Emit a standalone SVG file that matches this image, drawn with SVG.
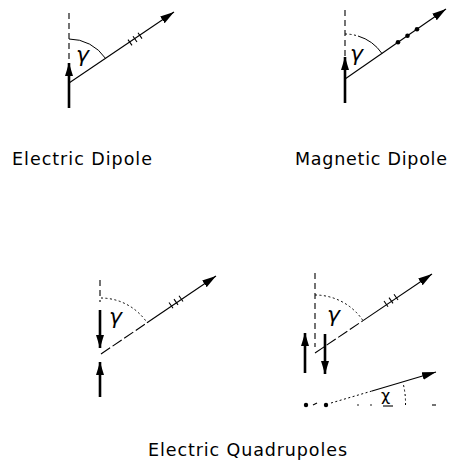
<svg xmlns="http://www.w3.org/2000/svg" width="450" height="460" viewBox="0 0 450 460">
<style>
.thin{stroke:#000;stroke-width:1.1;fill:none}
.thick{stroke:#000;stroke-width:2.6;fill:none}
.dash{stroke:#000;stroke-width:1.1;fill:none;stroke-dasharray:6 4}
.arc{stroke:#000;stroke-width:1;fill:none}
.dot{stroke:#000;stroke-width:1;fill:none;stroke-dasharray:2 2.5}
.brk{stroke:#000;stroke-width:1.1;fill:none;stroke-dasharray:11 3}
.lbl{font-family:"DejaVu Sans","Liberation Sans",sans-serif;font-size:17.5px;fill:#000}
.gr{font-family:"DejaVu Sans","Liberation Sans",sans-serif;font-size:22px;font-style:italic;fill:#000}
</style>
<defs>
<marker id="ah" markerUnits="userSpaceOnUse" markerWidth="15" markerHeight="9" refX="14" refY="4" orient="auto"><path d="M0,0 L14,4 L0,8 z" fill="#000"/></marker>
<marker id="ahk" markerUnits="userSpaceOnUse" markerWidth="14" markerHeight="9" refX="13" refY="4" orient="auto"><path d="M0,0 L13,4 L0,8 z" fill="#000"/></marker>
</defs>

<g id="electric-dipole">
<line class="dash" x1="69" y1="13" x2="69" y2="70"/>
<line class="thick" x1="69" y1="108" x2="69" y2="63" marker-end="url(#ahk)"/>
<line class="thin" x1="69" y1="83" x2="174" y2="12" marker-end="url(#ah)"/>
<path class="arc" d="M69,39 A44,44 0 0 1 105.5,58.4"/>
<path class="thin" d="M128,39.6 l4,5.8 M133,36.2 l4,5.8 M138,32.8 l4,5.8"/>
<text class="gr" x="76" y="62">γ</text>
<text class="lbl" x="12" y="165" textLength="140" lengthAdjust="spacing">Electric Dipole</text>
</g>

<g id="magnetic-dipole">
<line class="dash" x1="345" y1="10" x2="345" y2="62"/>
<line class="thick" x1="345" y1="103" x2="345" y2="57" marker-end="url(#ahk)"/>
<line class="thin" x1="345" y1="79" x2="446" y2="9" marker-end="url(#ah)"/>
<path class="dot" d="M345,34 A45,45 0 0 1 358,36"/>
<path class="arc" d="M358,36 A45,45 0 0 1 382,53.5"/>
<circle cx="398" cy="42.3" r="2.3"/>
<circle cx="407.5" cy="35.8" r="2.3"/>
<circle cx="417" cy="29.2" r="2.3"/>
<text class="gr" x="350" y="61">γ</text>
<text class="lbl" x="295" y="165" textLength="152" lengthAdjust="spacing">Magnetic Dipole</text>
</g>

<g id="quadrupole-1">
<line class="dash" x1="100" y1="280" x2="100" y2="302"/>
<line class="thick" x1="100" y1="310" x2="100" y2="348" marker-end="url(#ahk)"/>
<line class="thick" x1="100" y1="397" x2="100" y2="362" marker-end="url(#ahk)"/>
<line class="brk" x1="101" y1="354" x2="147" y2="322.8"/>
<line class="thin" x1="147" y1="322.8" x2="216" y2="276" marker-end="url(#ah)"/>
<path class="dot" d="M101,298 A56,56 0 0 1 147,322.6"/>
<path class="thin" d="M169,302.5 l4,5.8 M174,299.1 l4,5.8 M179,295.7 l4,5.8"/>
<text class="gr" x="109" y="324">γ</text>
</g>

<g id="quadrupole-2">
<line class="dash" x1="315" y1="273" x2="315" y2="347"/>
<line class="brk" x1="315" y1="353" x2="363" y2="320.6"/>
<line class="thin" x1="363" y1="320.6" x2="432" y2="274" marker-end="url(#ah)"/>
<path class="dot" d="M315,295 A58,58 0 0 1 363,320.6"/>
<path class="thin" d="M384,301 l4,5.8 M389,297.6 l4,5.8 M394,294.2 l4,5.8"/>
<text class="gr" x="327" y="322">γ</text>
<line class="thick" x1="305" y1="373" x2="305" y2="333" marker-end="url(#ahk)"/>
<line class="thick" x1="325" y1="334" x2="325" y2="374" marker-end="url(#ahk)"/>
<circle cx="306" cy="405" r="2.2"/>
<circle cx="326" cy="405" r="2.2"/>
<line class="thin" x1="313" y1="405" x2="317" y2="403"/>
<path class="dot" d="M331,403 L372,391"/>
<line class="thin" x1="372" y1="391" x2="436" y2="372" marker-end="url(#ah)"/>
<path class="dot" d="M405.5,405 A80,80 0 0 0 403,383"/>
<circle cx="358" cy="405" r="0.8"/>
<circle cx="371" cy="405" r="0.8"/>
<line class="thin" x1="383" y1="406" x2="393" y2="406"/>
<line class="thin" x1="432" y1="405" x2="436" y2="405"/>
<text class="gr" x="381" y="401" style="font-size:16px;font-style:normal">χ</text>
</g>

<text class="lbl" x="148" y="456" textLength="199" lengthAdjust="spacing">Electric Quadrupoles</text>
</svg>
